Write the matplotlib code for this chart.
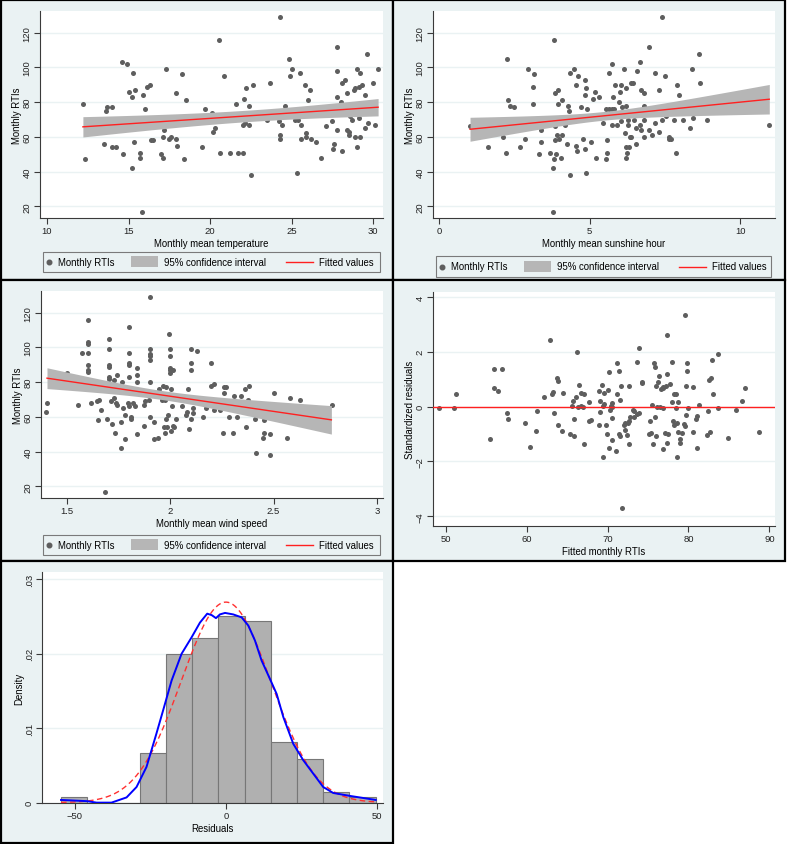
import numpy as np
import matplotlib
matplotlib.use("Agg")
import matplotlib.pyplot as plt
from matplotlib.patches import Rectangle
from matplotlib.lines import Line2D

plt.rcParams['font.family'] = ['Liberation Sans', 'DejaVu Sans']

# ---------------- data ----------------
temp_x = [12.18, 12.3, 13.5, 13.6, 13.7, 14.0, 14.0, 14.2, 14.6, 14.65, 14.9, 15.0, 15.2, 15.2, 15.25, 15.35,
          15.4, 15.7, 15.7, 15.8, 15.9, 16.0, 16.1, 16.3, 16.4, 16.5, 17.0, 17.1, 17.1, 17.2, 17.3, 17.5,
          17.6, 17.9, 17.9, 18.0, 18.3, 18.4, 18.5, 19.5, 19.7, 20.1, 20.2, 20.3, 20.55, 20.6, 20.86, 21.2,
          21.6, 21.7, 22.0, 22.0, 22.1, 22.15, 22.2, 22.4, 22.4, 22.5, 22.6, 23.5, 23.7, 24.25, 24.3, 24.3,
          24.3, 24.4, 24.6, 24.85, 24.9, 25.0, 25.2, 25.3, 25.4, 25.5, 25.6, 25.6, 25.8, 25.9, 25.9, 26.0,
          26.1, 26.2, 26.5, 26.8, 27.1, 27.5, 27.55, 27.6, 27.8, 27.8, 27.8, 27.8, 28.0, 28.1, 28.1, 28.3,
          28.4, 28.4, 28.5, 28.5, 28.6, 28.7, 28.8, 28.9, 28.9, 29.0, 29.0, 29.1, 29.1, 29.2, 29.2, 29.3,
          29.5, 29.5, 29.6, 29.7, 30.0, 30.1, 30.3]
temp_y = [79, 47, 56, 75, 77, 77, 54, 54, 103, 50, 102, 86, 83, 42, 97, 57,
          87, 48, 51, 17, 84, 76, 89, 90, 58, 58, 50, 48, 60, 64, 99, 59,
          60, 85, 59, 55, 96, 47, 81, 54, 76, 74, 63, 65, 116, 51, 95, 51,
          79, 51, 67, 51, 82, 68, 88, 67, 78, 38, 90, 70, 91, 69, 59, 61,
          129, 67, 78, 105, 95, 99, 70, 39, 70, 97, 67, 59, 90, 60, 62, 81,
          87, 59, 57, 48, 66, 69, 53, 56, 98, 112, 83, 64, 80, 52, 91, 93,
          85, 64, 63, 61, 72, 70, 87, 88, 60, 54, 99, 71, 89, 97, 60, 90,
          65, 84, 108, 68, 91, 67, 99]

sun_x = [1.03, 1.62, 2.14, 2.21, 2.26, 2.30, 2.36, 2.50, 2.69, 2.85, 2.97, 3.11, 3.11, 3.15, 3.32, 3.38,
         3.40, 3.70, 3.77, 3.79, 3.81, 3.82, 3.85, 3.84, 3.85, 3.89, 3.92, 3.94, 3.96, 3.99, 4.05, 4.08,
         4.09, 4.20, 4.24, 4.27, 4.32, 4.34, 4.35, 4.47, 4.54, 4.54, 4.57, 4.63, 4.72, 4.77, 4.84, 4.85,
         4.86, 4.87, 4.87, 4.93, 5.04, 5.13, 5.18, 5.21, 5.32, 5.44, 5.54, 5.55, 5.59, 5.59, 5.64, 5.65,
         5.74, 5.75, 5.77, 5.76, 5.80, 5.85, 5.90, 5.97, 6.00, 6.05, 6.06, 6.07, 6.16, 6.17, 6.20, 6.20,
         6.20, 6.21, 6.23, 6.27, 6.28, 6.32, 6.34, 6.39, 6.39, 6.44, 6.46, 6.53, 6.53, 6.57, 6.66, 6.69,
         6.71, 6.71, 6.82, 6.82, 6.82, 6.82, 6.97, 6.98, 7.09, 7.16, 7.19, 7.31, 7.31, 7.40, 7.42, 7.51,
         7.54, 7.63, 7.65, 7.72, 7.82, 7.86, 7.91, 7.98, 8.12, 8.33, 8.39, 8.42, 8.64, 8.66, 8.91, 10.97]
sun_y = [66, 54, 60, 51, 105, 81, 78, 77, 54, 59, 99, 89, 79, 96, 50, 64,
         57, 51, 17, 42, 116, 47, 85, 66, 58, 50, 61, 87, 79, 59, 48, 81,
         61, 67, 56, 78, 75, 97, 38, 99, 90, 55, 52, 95, 77, 59, 53, 93,
         84, 88, 39, 76, 57, 82, 86, 48, 83, 68, 76, 47, 51, 58, 76, 97,
         76, 102, 83, 67, 76, 90, 67, 80, 86, 69, 90, 77, 99, 62, 88, 48,
         78, 54, 51, 67, 70, 54, 60, 60, 91, 91, 70, 65, 56, 98, 103, 67,
         87, 64, 85, 60, 78, 70, 112, 64, 61, 97, 68, 87, 63, 70, 129, 95,
         72, 60, 59, 59, 70, 51, 90, 84, 70, 65, 99, 71, 108, 91, 70, 67]

wind_x = [1.403, 1.400, 1.5, 1.553, 1.573, 1.600, 1.60, 1.60, 1.60, 1.60, 1.60, 1.60, 1.616, 1.647, 1.655, 1.65,
          1.665, 1.682, 1.692, 1.702, 1.702, 1.702, 1.702, 1.702, 1.702, 1.711, 1.719, 1.726, 1.727, 1.734, 1.735, 1.74,
          1.744, 1.761, 1.763, 1.768, 1.77, 1.779, 1.781, 1.797, 1.802, 1.80, 1.80, 1.80, 1.80, 1.80, 1.808, 1.811,
          1.818, 1.829, 1.837, 1.839, 1.837, 1.839, 1.871, 1.873, 1.877, 1.895, 1.90, 1.90, 1.90, 1.90, 1.90, 1.90,
          1.90, 1.919, 1.921, 1.940, 1.945, 1.96, 1.965, 1.974, 1.979, 1.979, 1.969, 1.973, 1.982, 1.987, 1.995, 2.0,
          2.0, 2.0, 2.0, 2.0, 2.003, 2.005, 2.01, 2.011, 2.015, 2.02, 2.03, 2.056, 2.077, 2.08, 2.085, 2.09,
          2.10, 2.10, 2.10, 2.10, 2.108, 2.11, 2.127, 2.158, 2.172, 2.198, 2.197, 2.21, 2.21, 2.242, 2.253, 2.258,
          2.271, 2.258, 2.282, 2.31, 2.306, 2.323, 2.342, 2.363, 2.366, 2.379, 2.374, 2.411, 2.413, 2.448, 2.452, 2.456,
          2.481, 2.482, 2.50, 2.565, 2.581, 2.629, 2.781]
wind_y = [68, 63, 85, 67, 97, 116, 103, 102, 97, 90, 87, 86, 68, 69, 70, 58,
          64, 17, 59, 105, 99, 90, 89, 83, 82, 69, 56, 71, 81, 51, 68, 67,
          84, 57, 42, 80, 65, 47, 61, 68, 112, 97, 91, 90, 83, 66, 60, 59,
          68, 66, 88, 84, 50, 80, 55, 67, 69, 70, 129, 99, 96, 95, 93, 80,
          60, 57, 47, 48, 76, 70, 78, 70, 59, 77, 54, 51, 54, 61, 108, 99,
          95, 88, 87, 85, 76, 52, 66, 87, 55, 54, 59, 66, 61, 63, 76, 53,
          99, 91, 87, 59, 65, 62, 98, 60, 65, 91, 78, 79, 64, 64, 51, 77,
          77, 74, 60, 72, 51, 60, 72, 76, 54, 78, 70, 59, 39, 48, 51, 58,
          50, 38, 74, 48, 71, 70, 67]

fitted_x = [49.09, 50.95, 51.3, 55.4, 55.9, 55.9, 56.5, 56.9, 57.5, 57.7, 59.8, 60.4, 61.2, 61.3, 62.1, 62.9,
            63.1, 63.3, 63.4, 63.7, 63.9, 63.9, 64.3, 64.5, 65.3, 65.6, 65.7, 65.9, 65.9, 66.1, 66.2, 66.3,
            66.5, 66.7, 66.75, 66.96, 67.1, 67.1, 67.7, 67.7, 67.9, 68.9, 68.9, 69.0, 69.1, 69.3, 69.4, 69.4,
            69.6, 69.6, 69.8, 69.9, 70.1, 70.2, 70.2, 70.3, 70.4, 70.5, 70.5, 70.6, 70.6, 71.0, 71.2, 71.2,
            71.4, 71.4, 71.5, 71.5, 71.7, 71.8, 72.0, 72.1, 72.2, 72.4, 72.5, 72.7, 72.7, 72.7, 72.8, 73.1,
            73.2, 73.3, 73.6, 73.6, 73.9, 73.9, 74.2, 74.3, 75.1, 75.3, 75.4, 75.5, 75.6, 75.7, 75.9, 75.9,
            75.97, 76.0, 76.05, 76.2, 76.3, 76.5, 76.6, 76.8, 76.8, 76.9, 76.9, 77.05, 77.2, 77.3, 77.4, 77.3,
            77.5, 77.75, 77.9, 78.0, 78.04, 78.2, 78.2, 78.4, 78.5, 78.6, 78.6, 78.7, 78.7, 78.9, 78.95, 79.2,
            79.4, 79.6, 79.6, 79.65, 79.7, 79.8, 79.8, 79.9, 80.5, 80.5, 80.9, 81.0, 81.1, 81.3, 82.3, 82.4,
            82.5, 82.7, 82.8, 82.9, 83.0, 83.6, 83.7, 84.9, 85.9, 86.6, 87.0, 88.7]
stdres_y = [-0.07, -0.07, 0.46, -1.20, 1.37, 0.69, 0.58, 1.37, -0.25, -0.46, -0.59, -1.46, -0.91, -0.15, 0.34, 2.43,
            0.47, 0.53, -0.24, 1.04, 0.94, -0.66, -0.91, 0.49, -0.99, 0.03, 0.21, -0.46, -1.08, 0.34, 2.0, -0.03,
            0.78, 0.03, 0.5, -0.02, 0.46, -1.37, 0.15, -0.53, -0.48, 0.57, -0.66, -0.19, 0.21, 0.78, -1.85, 0.03,
            0.49, 0.08, -0.66, -1.0, 0.59, 1.26, -1.52, -0.14, 0.03, 0.13, -0.02, -0.43, -1.21, -1.63, 1.59, 0.47,
            -0.99, 1.31, 0.25, -1.07, 0.76, -3.71, -0.69, -0.86, -0.59, -1.04, -0.59, -1.38, -0.53, 0.75, -0.38, -0.11,
            -0.38, -0.18, 1.63, -0.26, -0.24, 2.12, 0.9, 0.86, -1.02, -0.51, -0.97, 0.04, -1.36, 1.59, 1.43, -0.38,
            -1.08, 0.75, 0.0, 0.9, 1.11, -0.02, 0.65, 0.66, -1.55, -0.05, 0.71, -0.96, 0.76, 2.6, 1.18, -1.32,
            -0.99, 0.82, 0.15, 1.64, -0.54, 0.47, -0.69, 0.46, -0.04, -1.86, -0.59, 0.15, -0.94, -1.19, -1.32, -0.96,
            -0.65, 3.33, -0.72, -0.31, 0.75, 1.59, 1.30, -0.05, 0.71, -0.93, -0.46, -0.35, -1.50, 0.04, -1.03, -0.18,
            0.97, -0.94, 1.05, 1.70, 0.47, 1.93, -0.05, -1.15, -0.14, 0.22, 0.66, -0.94]

# linear fits with 95% CI: x-range, fitted value at the ends,
# CI half-width minimum, its location and curvature
fit_temp = dict(x0=12.2, x1=30.3, y0=65.8, y1=77.1, hw_min=3.3, xm=22.38, curv=0.2248)
fit_sun = dict(x0=1.03, x1=10.97, y0=64.4, y1=81.7, hw_min=2.5, xm=5.42, curv=2.145)
fit_wind = dict(x0=1.403, x1=2.78, y0=82.3, y1=58.3, hw_min=2.6, xm=1.968, curv=91.6)

# histogram of residuals
hist_start = -54.6
hist_width = 8.68
hist_counts = [1, 0, 0, 9, 27, 30, 34, 33, 11, 8, 2, 1]
resid_sd = 14.8
resid_mean = 0.0

# kernel density of residuals
kde_x = [-54.6, -46.1, -42.8, -37.9, -32.9, -29.6, -26.3, -23.0, -20.8, -18.0, -14.7, -11.4, -8.6, -6.2,
         -4.7, -3.3, -2.0, -0.3, 2.4, 5.2, 7.4, 9.6, 11.8, 14.6, 16.8, 19.0, 22.3, 25.6, 28.9, 32.2,
         35.5, 41.1, 49.6]
kde_y = [0.00036, 0.0002, 0.0, 0.0, 0.0007, 0.0021, 0.0048, 0.0093, 0.0124, 0.0164, 0.0200, 0.0222, 0.0242,
         0.0254, 0.0252, 0.0248, 0.0253, 0.0255, 0.0253, 0.0249, 0.0238, 0.0218, 0.0191, 0.0166, 0.0146,
         0.0115, 0.0079, 0.0057, 0.0039, 0.0021, 0.0013, 0.0009, 0.00036]

legend_labels = ['Monthly RTIs', '95% confidence interval', 'Fitted values']

# ---------------- style ----------------
BG = '#EAF2F3'
MARK = '#5E5E5E'
BAND = '#B6B6B6'
AXC = '#3A3A3A'
RED = '#FF2020'
W, H = 787, 845
FS_TICK = 6.8
FS_LAB = 6.9

fig = plt.figure(figsize=(W / 100, H / 100), dpi=100)
fig.patch.set_facecolor('white')


def fx(px):
    return px / W


def fy(py):
    return 1 - py / H


# panel backgrounds
for (x0, y0, x1, y1) in [(1, 1, 393, 281), (393, 1, 785, 281), (1, 281, 393, 562),
                         (393, 281, 785, 562), (1, 562, 393, 844)]:
    fig.add_artist(Rectangle((fx(x0), fy(y1)), fx(x1 - x0), (y1 - y0) / H,
                             transform=fig.transFigure, facecolor=BG,
                             edgecolor='black', linewidth=1.6, zorder=-5))


def make_ax(left, top, right, bottom):
    ax = fig.add_axes([fx(left), fy(bottom), fx(right - left), (bottom - top) / H])
    ax.set_zorder(1)
    ax.set_facecolor('white')
    for s in ['top', 'right']:
        ax.spines[s].set_visible(False)
    for s in ['left', 'bottom']:
        ax.spines[s].set_color(AXC)
        ax.spines[s].set_linewidth(0.8)
    ax.tick_params(direction='out', length=4, width=0.8, color=AXC, labelsize=FS_TICK,
                   labelcolor='#222222', pad=2)
    ax.yaxis.grid(True, color=BG, linewidth=1.0)
    ax.set_axisbelow(True)
    return ax


def rot_y(ax):
    for lab in ax.get_yticklabels():
        lab.set_rotation(90)
        lab.set_va('center')


def fit_band(ax, f):
    xs = np.linspace(f['x0'], f['x1'], 100)
    slope = (f['y1'] - f['y0']) / (f['x1'] - f['x0'])
    yfit = f['y0'] + slope * (xs - f['x0'])
    hw = np.sqrt(f['hw_min'] ** 2 + f['curv'] * (xs - f['xm']) ** 2)
    ax.fill_between(xs, yfit - hw, yfit + hw, color=BAND, linewidth=0, zorder=3)
    ax.plot(xs, yfit, color=RED, linewidth=1.0, zorder=4)


def add_legend(x0, y0, x1, y1):
    fig.add_artist(Rectangle((fx(x0), fy(y1)), fx(x1 - x0), (y1 - y0) / H,
                             transform=fig.transFigure, facecolor=BG,
                             edgecolor='#7A7A7A', linewidth=0.8, zorder=2))
    yc = fy((y0 + y1) / 2)
    fig.add_artist(Line2D([fx(x0 + 6)], [yc], marker='o', markersize=3.3, color=MARK,
                          linestyle='none', transform=fig.transFigure, zorder=3))
    fig.text(fx(x0 + 15), yc, legend_labels[0], fontsize=FS_LAB, va='center', ha='left', zorder=3)
    fig.add_artist(Rectangle((fx(x0 + 88), fy(y1 - 5)), fx(27), 11 / H,
                             transform=fig.transFigure, facecolor=BAND, edgecolor='none', zorder=3))
    fig.text(fx(x0 + 121), yc, legend_labels[1], fontsize=FS_LAB, va='center', ha='left', zorder=3)
    fig.add_artist(Line2D([fx(x0 + 243), fx(x0 + 270)], [yc, yc], color=RED, linewidth=1.0,
                          transform=fig.transFigure, zorder=3))
    fig.text(fx(x0 + 276), yc, legend_labels[2], fontsize=FS_LAB, va='center', ha='left', zorder=3)


def scatter_panel(box, xs, ys, fit, xlim, xticks, xlabel, legbox):
    ax = make_ax(*box)
    ax.scatter(xs, ys, s=13, color=MARK, linewidths=0, zorder=2)
    fit_band(ax, fit)
    ax.set_xlim(*xlim)
    ax.set_ylim(13.3, 132.5)
    ax.set_xticks(xticks)
    ax.set_yticks([20, 40, 60, 80, 100, 120])
    rot_y(ax)
    ax.set_xlabel(xlabel, fontsize=FS_LAB, labelpad=2)
    ax.set_ylabel('Monthly RTIs', fontsize=FS_LAB, labelpad=0.5)
    add_legend(*legbox)
    return ax


scatter_panel((40, 12, 383, 219), temp_x, temp_y, fit_temp, (9.57, 30.6), [10, 15, 20, 25, 30],
              'Monthly mean temperature', (43, 253, 380, 273))
scatter_panel((433, 12, 775, 219), sun_x, sun_y, fit_sun, (-0.2, 11.16), [0, 5, 10],
              'Monthly mean sunshine hour', (436, 257, 771, 278))
ax3 = scatter_panel((41, 292, 383, 499), wind_x, wind_y, fit_wind, (1.374, 3.03),
                    [1.5, 2, 2.5, 3], 'Monthly mean wind speed', (43, 536, 380, 556))
ax3.set_xticklabels(['1.5', '2', '2.5', '3'])

# residuals vs fitted
ax4 = make_ax(433, 293, 775, 527)
ax4.scatter(fitted_x, stdres_y, s=13, color=MARK, linewidths=0, zorder=2)
ax4.axhline(0, color=RED, linewidth=1.0, zorder=3)
ax4.set_xlim(48.4, 90.7)
ax4.set_ylim(-4.36, 4.18)
ax4.set_xticks([50, 60, 70, 80, 90])
ax4.set_yticks([-4, -2, 0, 2, 4])
rot_y(ax4)
ax4.set_xlabel('Fitted monthly RTIs', fontsize=FS_LAB, labelpad=2)
ax4.set_ylabel('Standardized residuals', fontsize=FS_LAB, labelpad=0.5)

# histogram
ax5 = make_ax(42, 573, 383, 804)
N = sum(hist_counts)
edges = hist_start + hist_width * np.arange(len(hist_counts) + 1)
dens = np.array(hist_counts) / (N * hist_width)
ax5.bar(edges[:-1], dens, width=hist_width, align='edge', color='#B0B0B0',
        edgecolor='#777777', linewidth=0.8, zorder=2)
xx = np.linspace(edges[0], edges[-1], 300)
ax5.plot(xx, np.exp(-0.5 * ((xx - resid_mean) / resid_sd) ** 2) / (resid_sd * np.sqrt(2 * np.pi)),
         color='#FF3030', linestyle=(0, (4, 2.5)), linewidth=1.0, zorder=3)
ax5.plot(kde_x, kde_y, color='#0000FF', linewidth=1.4, zorder=4)
ax5.set_xlim(-60.9, 52)
ax5.set_ylim(-0.00005, 0.031)
ax5.set_xticks([-50, 0, 50])
ax5.set_yticks([0, 0.01, 0.02, 0.03])
ax5.set_yticklabels(['0', '.01', '.02', '.03'])
rot_y(ax5)
ax5.set_xlabel('Residuals', fontsize=FS_LAB, labelpad=2)
ax5.set_ylabel('Density', fontsize=FS_LAB, labelpad=0.5)

fig.savefig('out.png', dpi=100, facecolor='white')
